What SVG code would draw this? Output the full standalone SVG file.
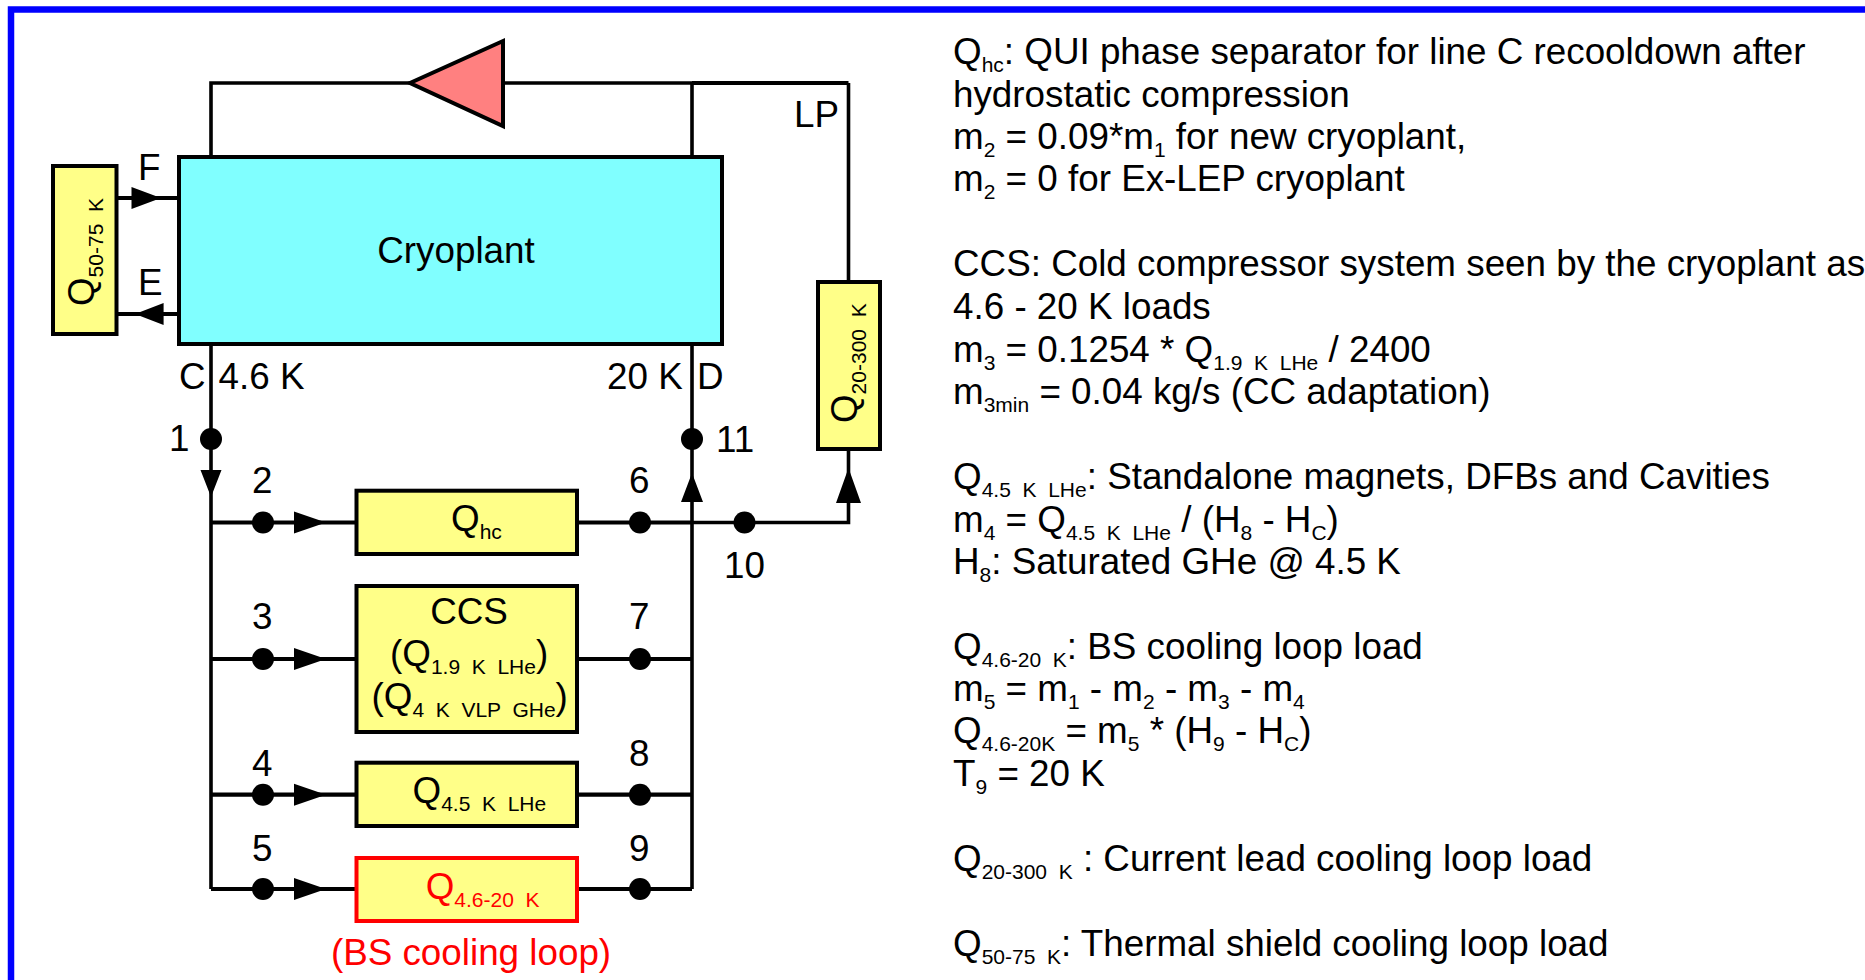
<svg xmlns="http://www.w3.org/2000/svg" width="1865" height="980" viewBox="0 0 1865 980">
<style>
text{font-family:"Liberation Sans",Arial,sans-serif;font-size:36.8px;fill:#000;white-space:pre}
.s{font-size:21px}
.r,.r .s{fill:#f00}
.box{fill:#ff8;stroke:#000;stroke-width:4}
.ln{fill:none;stroke:#000;stroke-width:3.6}
.th{fill:none;stroke:#000;stroke-width:4.2}
.dot{fill:#000}
</style>
<rect width="1865" height="980" fill="#fff"/>
<rect x="11" y="9.5" width="2000" height="2000" fill="none" stroke="#00f" stroke-width="6.5"/>
<g id="connectors">
<path class="ln" d="M211 157V83H412M503 83H692M692 157V83"/>
<path class="th" d="M692 83H848.5"/>
<path class="ln" d="M848.5 83V282M211 344V889M692 344V889M848.5 449V522.5H692"/>
<path class="th" d="M116 198H179M116 314H179M211 522.5H357M577 522.5H692M211 659H357M577 659H692M211 794.7H357M577 794.7H692M211 889H357M577 889H692"/>
<path class="dot" d="M131.5 187L161 198L131.5 209ZM135 314L163.6 303V325ZM200.5 470H221.5L211 497ZM692 473L703 502H681ZM848.5 468L861 503H836ZM294 511.500L326 522.500L294 533.500ZM294 648L326 659L294 670ZM294 783.700L326 794.700L294 805.700ZM294 878L326 889L294 900Z"/>
<g class="dot"><circle cx="211" cy="439" r="11"/><circle cx="692" cy="439" r="11"/><circle cx="263" cy="522.500" r="11"/><circle cx="640" cy="522.500" r="11"/><circle cx="744.500" cy="522.500" r="11"/><circle cx="263" cy="659" r="11"/><circle cx="640" cy="659" r="11"/><circle cx="263" cy="794.700" r="11"/><circle cx="640" cy="794.700" r="11"/><circle cx="263" cy="889" r="11"/><circle cx="640" cy="889" r="11"/></g>
</g>
<g id="compressor"><path d="M503 41V126L410 83Z" fill="#ff8080" stroke="#000" stroke-width="4"/></g>
<g id="cryoplant"><rect x="179" y="157" width="543" height="187" fill="#80ffff" stroke="#000" stroke-width="4"/><text x="456" y="263" text-anchor="middle">Cryoplant</text></g>
<g id="q50"><rect class="box" x="53" y="166" width="63.500" height="168"/><text transform="translate(94 306) rotate(-90)">Q<tspan class="s" dy="9">50-75  K</tspan></text></g>
<g id="q20"><rect class="box" x="818" y="282" width="62" height="167"/><text transform="translate(857 423) rotate(-90)">Q<tspan class="s" dy="9">20-300  K</tspan></text></g>
<g id="qhc"><rect class="box" x="356.500" y="490.700" width="220.500" height="63.300"/><text x="451" y="531">Q<tspan class="s" dy="8">hc</tspan></text></g>
<g id="ccs"><rect class="box" x="356.500" y="586" width="220.500" height="146"/><text x="469" y="624" text-anchor="middle">CCS</text><text x="390" y="666">(Q<tspan class="s" dy="8">1.9  K  LHe</tspan><tspan dy="-8">)</tspan></text><text x="371.500" y="709">(Q<tspan class="s" dy="8">4  K  VLP  GHe</tspan><tspan dy="-8">)</tspan></text></g>
<g id="q45"><rect class="box" x="356.500" y="762.700" width="220.500" height="63.300"/><text x="412.500" y="802.700">Q<tspan class="s" dy="8">4.5  K  LHe</tspan></text></g>
<g id="q46"><rect class="box" style="stroke:#f00" x="356.500" y="858" width="220.500" height="63"/><text class="r" x="425.700" y="898.700">Q<tspan class="s" dy="8">4.6-20  K</tspan></text></g>
<g id="labels">
<text class="r" x="471" y="965" text-anchor="middle">(BS cooling loop)</text>
<text x="138" y="180">F</text><text x="138" y="295">E</text><text x="794" y="127">LP</text>
<text x="179" y="389">C</text><text x="218.500" y="389">4.6 K</text><text x="607" y="389">20 K</text><text x="697" y="389">D</text>
<text x="169" y="451">1</text><text x="716" y="452">11</text><text x="252" y="493">2</text><text x="629" y="493">6</text>
<text x="252" y="629">3</text><text x="629" y="629">7</text><text x="252" y="776">4</text><text x="629" y="766">8</text>
<text x="252" y="861">5</text><text x="629" y="861">9</text><text x="744.500" y="578" text-anchor="middle">10</text>
</g>
<g id="notes">
<text x="953" y="64">Q<tspan class="s" dy="8">hc</tspan><tspan dy="-8">: QUI phase separator for line C recooldown after</tspan></text>
<text x="953" y="107">hydrostatic compression</text>
<text x="953" y="149">m<tspan class="s" dy="8">2</tspan><tspan dy="-8"> = 0.09*m</tspan><tspan class="s" dy="8">1</tspan><tspan dy="-8"> for new cryoplant,</tspan></text>
<text x="953" y="191">m<tspan class="s" dy="8">2</tspan><tspan dy="-8"> = 0 for Ex-LEP cryoplant</tspan></text>
<text x="953" y="276">CCS: Cold compressor system seen by the cryoplant as</text>
<text x="953" y="319">4.6 - 20 K loads</text>
<text x="953" y="362">m<tspan class="s" dy="8">3</tspan><tspan dy="-8"> = 0.1254 * Q</tspan><tspan class="s" dy="8">1.9  K  LHe</tspan><tspan dy="-8"> / 2400</tspan></text>
<text x="953" y="404">m<tspan class="s" dy="8">3min</tspan><tspan dy="-8"> = 0.04 kg/s (CC adaptation)</tspan></text>
<text x="953" y="489">Q<tspan class="s" dy="8">4.5  K  LHe</tspan><tspan dy="-8">: Standalone magnets, DFBs and Cavities</tspan></text>
<text x="953" y="531.700">m<tspan class="s" dy="8">4</tspan><tspan dy="-8"> = Q</tspan><tspan class="s" dy="8">4.5  K  LHe</tspan><tspan dy="-8"> / (H</tspan><tspan class="s" dy="8">8</tspan><tspan dy="-8"> - H</tspan><tspan class="s" dy="8">C</tspan><tspan dy="-8">)</tspan></text>
<text x="953" y="574">H<tspan class="s" dy="8">8</tspan><tspan dy="-8">: Saturated GHe @ 4.5 K</tspan></text>
<text x="953" y="658.700">Q<tspan class="s" dy="8">4.6-20  K</tspan><tspan dy="-8">: BS cooling loop load</tspan></text>
<text x="953" y="701">m<tspan class="s" dy="8">5</tspan><tspan dy="-8"> = m</tspan><tspan class="s" dy="8">1</tspan><tspan dy="-8"> - m</tspan><tspan class="s" dy="8">2</tspan><tspan dy="-8"> - m</tspan><tspan class="s" dy="8">3</tspan><tspan dy="-8"> - m</tspan><tspan class="s" dy="8">4</tspan></text>
<text x="953" y="743">Q<tspan class="s" dy="8">4.6-20K</tspan><tspan dy="-8"> = m</tspan><tspan class="s" dy="8">5</tspan><tspan dy="-8"> * (H</tspan><tspan class="s" dy="8">9</tspan><tspan dy="-8"> - H</tspan><tspan class="s" dy="8">C</tspan><tspan dy="-8">)</tspan></text>
<text x="953" y="786">T<tspan class="s" dy="8">9</tspan><tspan dy="-8"> = 20 K</tspan></text>
<text x="953" y="871">Q<tspan class="s" dy="8">20-300  K</tspan><tspan dy="-8"> : Current lead cooling loop load</tspan></text>
<text x="953" y="956">Q<tspan class="s" dy="8">50-75  K</tspan><tspan dy="-8">: Thermal shield cooling loop load</tspan></text>
</g>
</svg>
